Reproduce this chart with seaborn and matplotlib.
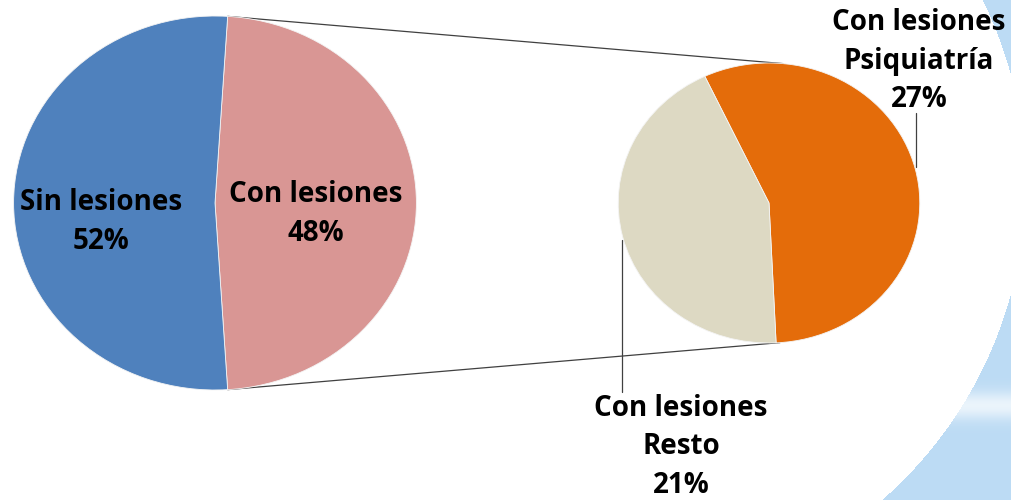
import numpy as np
import matplotlib
matplotlib.use("Agg")
import matplotlib.pyplot as plt
import seaborn as sns

# data
main_labels = ["Con lesiones", "Sin lesiones"]
main_values = [48, 52]
sub_labels = ["Psiquiatría", "Resto"]
sub_values = [27, 21]

main_colors = ["#D99694", "#4F81BD"]
sub_colors = ["#E46C0A", "#DDD9C3"]

sns.set_theme(style="white")
plt.rcParams["font.family"] = ["Open Sans", "DejaVu Sans"]

W, H = 1011, 500
SX = 1.077  # horizontal stretch of the original picture


def px(x, y):
    # pixel position -> data coords of the main axes
    return x / SX, H - y


fig = plt.figure(figsize=(W / 100, H / 100), dpi=100)

# background with the blue swoosh on the right
bg = fig.add_axes([0, 0, 1, 1], zorder=0)
yy, xx = np.mgrid[0:H, 0:W]
outside = (np.hypot(xx - 606, yy - 184) > 419) & (xx > 606)
base = np.array([188, 219, 244]) / 255.0
band = np.exp(-((yy - 405) / 14.0) ** 2)[..., None] * 0.7
blue = base + (1 - base) * band
img = np.ones((H, W, 3))
img[outside] = blue[outside]
bg.imshow(img, extent=(0, W, H, 0), aspect="auto", interpolation="bilinear")
bg.set_xlim(0, W)
bg.set_ylim(H, 0)
bg.axis("off")

ax = fig.add_axes([0, 0, 1, 1], zorder=1)
ax.patch.set_alpha(0)

left_c = px(215, 203)
left_r = 187
right_c = px(769, 203)
right_r = 140

frac_con = main_values[0] / sum(main_values)
start_main = -frac_con * 180
ax.pie(main_values, colors=main_colors, startangle=start_main,
       center=left_c, radius=left_r, counterclock=True,
       wedgeprops=dict(linewidth=0.6, edgecolor="#f4f4f4"))

start_sub = -87.3
ax.pie(sub_values, colors=sub_colors, startangle=start_sub,
       center=right_c, radius=right_r, counterclock=True,
       wedgeprops=dict(linewidth=0.6, edgecolor="#f4f4f4"))

ax.set_xlim(0, W / SX)
ax.set_ylim(0, H)
ax.set_aspect("auto")
ax.axis("off")

# connector lines between the pies
for a_left, a_right in [(-start_main, 84.7), (start_main, -85.8)]:
    x1 = left_c[0] + left_r * np.cos(np.radians(a_left))
    y1 = left_c[1] + left_r * np.sin(np.radians(a_left))
    x2 = right_c[0] + right_r * np.cos(np.radians(a_right))
    y2 = right_c[1] + right_r * np.sin(np.radians(a_right))
    ax.plot([x1, x2], [y1, y2], color="#404040", lw=0.9, zorder=0)

# labels
tkw = dict(ha="center", va="center", fontsize=20, fontweight="bold",
           color="black", linespacing=1.45)
ax.text(*px(101, 222), f"{main_labels[1]}\n{main_values[1]}%", **tkw)
ax.text(*px(316, 214), f"{main_labels[0]}\n{main_values[0]}%", **tkw)
ax.text(*px(919, 61), f"{main_labels[0]}\n{sub_labels[0]}\n{sub_values[0]}%", **tkw)
ax.text(*px(681, 447), f"{main_labels[0]}\n{sub_labels[1]}\n{sub_values[1]}%", **tkw)

# leader lines
ax.plot(*zip(px(916, 113), px(916, 167)), color="#404040", lw=0.9)
ax.plot(*zip(px(622, 240), px(622, 392)), color="#404040", lw=0.9)

fig.savefig("out.png", dpi=100)
